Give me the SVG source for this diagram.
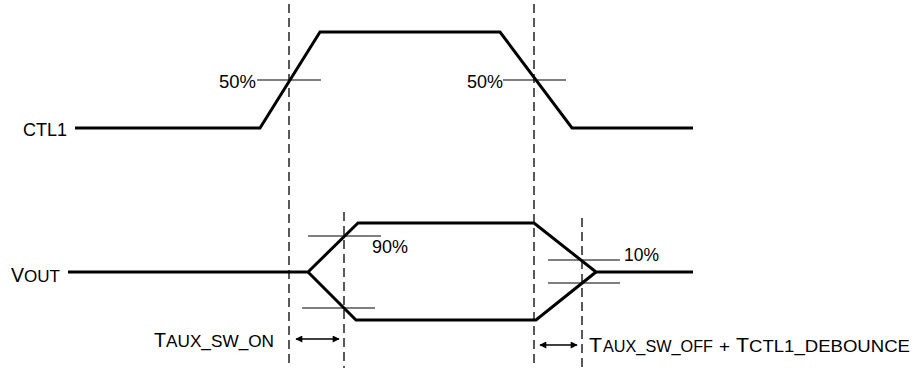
<svg xmlns="http://www.w3.org/2000/svg" width="915" height="368" viewBox="0 0 915 368">
<style>
.wave{fill:none;stroke:#000;stroke-width:3;stroke-linejoin:miter}
.thin{fill:none;stroke:#000;stroke-width:1.2}
.dash{fill:none;stroke:#000;stroke-width:1.3;stroke-dasharray:9 5}
.arr{fill:none;stroke:#000;stroke-width:1.5;marker-start:url(#ah);marker-end:url(#ah)}
text{font-family:"Liberation Sans",Arial,sans-serif;fill:#000;font-size:18.5px}
.big{font-size:21px}
.sub{font-size:17px}
</style>
<defs>
<marker id="ah" viewBox="0 0 10 10" refX="9" refY="5" markerWidth="8" markerHeight="7" markerUnits="userSpaceOnUse" orient="auto-start-reverse">
<path d="M0,0 L10,5 L0,10 z" fill="#000"/>
</marker>
</defs>
<g id="connectors">
<line class="dash" x1="289" y1="4" x2="289" y2="368"/>
<line class="dash" x1="534" y1="4" x2="534" y2="368"/>
<line class="dash" x1="344" y1="212" x2="344" y2="368"/>
<line class="dash" x1="582" y1="218" x2="582" y2="368"/>
<line class="arr" x1="296" y1="339" x2="339" y2="339"/>
<line class="arr" x1="540" y1="345" x2="577" y2="345"/>
</g>
<g id="ctl1">
<polyline class="wave" points="75,128 260,128 320,32 500,32 572,128 693,128"/>
<line class="thin" x1="257" y1="80" x2="321" y2="80"/>
<line class="thin" x1="503" y1="80" x2="566" y2="80"/>
<text x="23" y="136" textLength="44" lengthAdjust="spacingAndGlyphs">CTL1</text>
<text x="219" y="88" textLength="37" lengthAdjust="spacingAndGlyphs">50%</text>
<text x="467" y="88" textLength="36" lengthAdjust="spacingAndGlyphs">50%</text>
</g>
<g id="vout">
<polyline class="wave" points="68,272 308,272 358,223 534,223 596,272 693,272"/>
<polyline class="wave" points="308,272 356,320 536,320 596,272"/>
<line class="thin" x1="308" y1="236" x2="381" y2="236"/>
<line class="thin" x1="302" y1="308" x2="375" y2="308"/>
<line class="thin" x1="548" y1="260" x2="620" y2="260"/>
<line class="thin" x1="548" y1="283" x2="620" y2="283"/>
<text x="372" y="253" textLength="36" lengthAdjust="spacingAndGlyphs">90%</text>
<text x="624" y="261" textLength="35" lengthAdjust="spacingAndGlyphs">10%</text>
<text y="282"><tspan class="big" x="11" textLength="13" lengthAdjust="spacingAndGlyphs">V</tspan><tspan class="sub" x="24" textLength="36" lengthAdjust="spacingAndGlyphs">OUT</tspan></text>
</g>
<g id="t-on">
<text y="347"><tspan class="big" x="154" textLength="12" lengthAdjust="spacingAndGlyphs">T</tspan><tspan class="sub" x="166" textLength="108" lengthAdjust="spacingAndGlyphs">AUX_SW_ON</tspan></text>
</g>
<g id="t-off">
<text y="352"><tspan class="big" x="589" textLength="13" lengthAdjust="spacingAndGlyphs">T</tspan><tspan class="sub" x="603" textLength="110" lengthAdjust="spacingAndGlyphs">AUX_SW_OFF</tspan><tspan class="sub" x="719" textLength="11" lengthAdjust="spacingAndGlyphs">+</tspan><tspan class="big" x="736" textLength="13" lengthAdjust="spacingAndGlyphs">T</tspan><tspan class="sub" x="749" textLength="161" lengthAdjust="spacingAndGlyphs">CTL1_DEBOUNCE</tspan></text>
</g>
</svg>
